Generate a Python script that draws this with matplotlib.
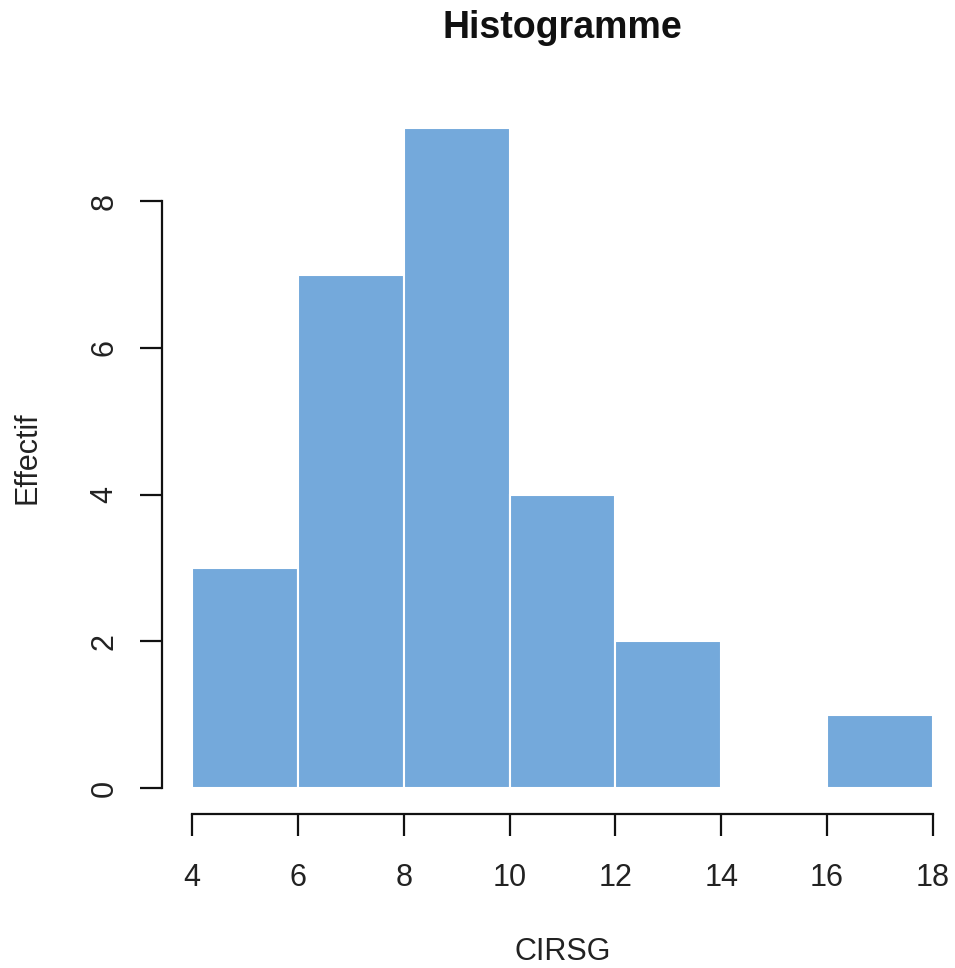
import matplotlib

matplotlib.use("Agg")
import matplotlib.pyplot as plt
import numpy as np

# CIRSG histogram: class edges and counts
bin_edges = [4, 6, 8, 10, 12, 14, 16, 18]
counts = [3, 7, 9, 4, 2, 0, 1]
x_ticks = [4, 6, 8, 10, 12, 14, 16, 18]
y_ticks = [0, 2, 4, 6, 8]

plt.rcParams["font.family"] = ["Liberation Sans", "DejaVu Sans"]

W, H = 955, 968
fig = plt.figure(figsize=(W / 100, H / 100), dpi=100)
fig.patch.set_facecolor("white")

# plot region in pixels (R style, 4% padding around data range)
left_px, right_px = 162.4, 962.6
top_px, bottom_px = 101.6, 814.4
ax = fig.add_axes([
    left_px / W,
    1 - bottom_px / H,
    (right_px - left_px) / W,
    (bottom_px - top_px) / H,
])

edges = np.array(bin_edges, dtype=float)
ax.bar(edges[:-1], counts, width=np.diff(edges), align="edge",
       color="#74A9DB", edgecolor="white", linewidth=1.5)

xr = edges[-1] - edges[0]
ax.set_xlim(edges[0] - 0.04 * xr, edges[-1] + 0.04 * xr)
ymax = max(counts)
ax.set_ylim(-0.04 * ymax, ymax * 1.04)

for side in ("top", "right"):
    ax.spines[side].set_visible(False)
ax.spines["left"].set_bounds(y_ticks[0], y_ticks[-1])
ax.spines["bottom"].set_bounds(x_ticks[0], x_ticks[-1])
for side in ("left", "bottom"):
    ax.spines[side].set_linewidth(1.6)
    ax.spines[side].set_color("#111111")

ax.set_xticks(x_ticks)
ax.set_yticks(y_ticks)
ax.set_yticklabels([str(v) for v in y_ticks], rotation=90, va="center")
ax.tick_params(axis="both", direction="out", length=16, width=1.6,
               colors="#111111", labelsize=22, labelcolor="#222222")
ax.tick_params(axis="x", pad=19)
ax.tick_params(axis="y", pad=15)

ax.set_title("Histogramme", fontsize=27, fontweight="bold", y=1.103,
             pad=0, va="center", color="#111111")
ax.set_xlabel("CIRSG", fontsize=22, color="#222222", va="center")
ax.xaxis.set_label_coords(0.5, -0.193)
ax.set_ylabel("Effectif", fontsize=22, color="#222222", va="center")
ax.yaxis.set_label_coords(-0.169, 0.5)

fig.savefig("out.png", dpi=100, facecolor="white")
